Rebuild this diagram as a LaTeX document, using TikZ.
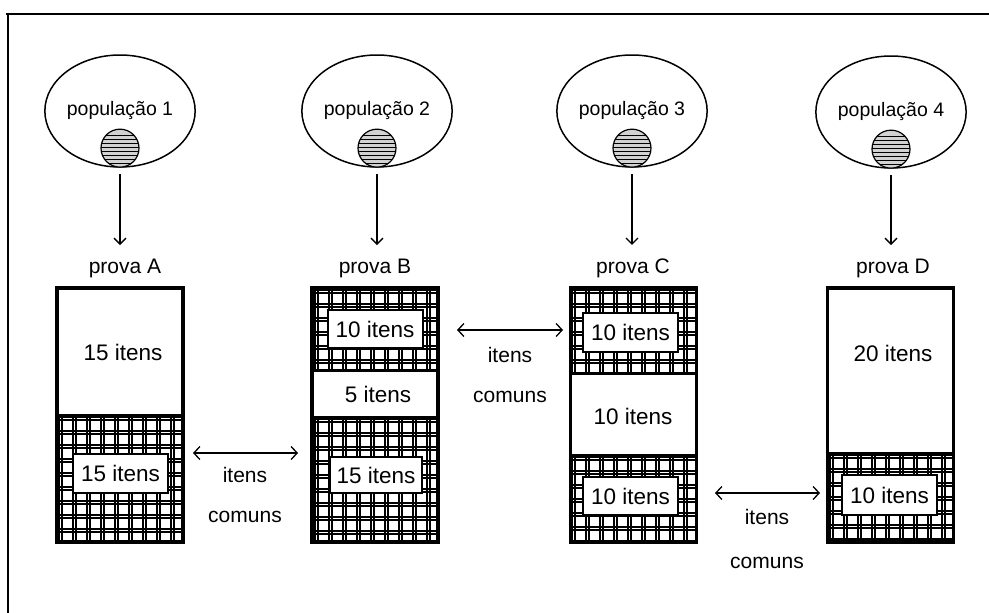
\documentclass[tikz,border=0pt]{standalone}
\usepackage{fontspec}
\setmainfont{Liberation Sans}
\usetikzlibrary{arrows.meta,positioning,shapes.geometric}

% grid of double lines over a part of a test booklet
\newcommand{\gridpatch}[4]{%
  \begin{scope}
    \clip (#1,#2) rectangle (#3,#4);
    \fill[white] (#1,#2) rectangle (#3,#4);
    \foreach \g in {0,14,...,140} {
      \draw[gridline] ({#1+\g+2},#2) -- ({#1+\g+2},#4);
      \draw[gridline] ({#1+\g+5},#2) -- ({#1+\g+5},#4);
      \draw[gridline] (#1,{#2+\g+2}) -- (#3,{#2+\g+2});
      \draw[gridline] (#1,{#2+\g+5}) -- (#3,{#2+\g+5});
    }
  \end{scope}}

\begin{document}
\begin{tikzpicture}[
  x=1pt, y=-1pt,
  font=\fontsize{21}{24}\selectfont,
  pop/.style={draw, ellipse, line width=1.5pt, minimum width=126, minimum height=112, inner sep=0pt, font=\fontsize{19.5}{22}\selectfont},
  sample/.style={draw, circle, line width=1.2pt, minimum size=38, inner sep=0pt, fill=gray!35,
    path picture={\foreach \k in {-15,-11,...,15} \draw[line width=0.7pt] ([yshift=\k pt]path picture bounding box.west) -- ([yshift=\k pt]path picture bounding box.east);}},
  testbox/.style={draw, line width=3.5pt, minimum width=126, minimum height=254, inner sep=0pt},
  itembox/.style={draw, fill=white, line width=2pt, minimum width=95, minimum height=39, inner sep=0pt, font=\fontsize{22.5}{24}\selectfont},
  itemtext/.style={font=\fontsize{22.5}{24}\selectfont},
  arrow/.style={-{Straight Barb[length=6pt,width=12pt]}, line width=1.3pt},
  dblarrow/.style={{Straight Barb[length=6pt,width=13pt]}-{Straight Barb[length=6pt,width=13pt]}, line width=1.3pt},
  divider/.style={line width=3pt},
  gridline/.style={line width=1.1pt}
]
\useasboundingbox (0,0) rectangle (989,613);

% frame
\draw[line width=2pt] (6,14) -- (989,14);
\draw[line width=1.5pt] (8,14) -- (8,613);

% populations
\node[pop] (pop1) at (120,111) {população 1};
\node[pop] (pop2) at (377,111) {população 2};
\node[pop] (pop3) at (632,111) {população 3};
\node[pop] (pop4) at (891,112) {população 4};
\node[sample, anchor=south] (sam1) at (pop1.south) {};
\node[sample, anchor=south] (sam2) at (pop2.south) {};
\node[sample, anchor=south] (sam3) at (pop3.south) {};
\node[sample, anchor=south] (sam4) at (pop4.south) {};

% tests
\node (provaA) at (125,268) {prova A};
\node (provaB) at (375,268) {prova B};
\node (provaC) at (633,268) {prova C};
\node (provaD) at (893,268) {prova D};

\draw[arrow, shorten <=6pt, shorten >=10pt] (pop1.south) -- (pop1.south |- provaA.north);
\draw[arrow, shorten <=6pt, shorten >=10pt] (pop2.south) -- (pop2.south |- provaB.north);
\draw[arrow, shorten <=6pt, shorten >=10pt] (pop3.south) -- (pop3.south |- provaC.north);
\draw[arrow, shorten <=6pt, shorten >=10pt] (pop4.south) -- (pop4.south |- provaD.north);

% hatched parts
\gridpatch{57}{415}{183}{542}
\gridpatch{313}{288}{437}{370}
\gridpatch{313}{417}{437}{542}
\gridpatch{570}{288}{697}{373}
\gridpatch{570}{455}{697}{542}
\gridpatch{828}{453}{953}{542}

\node[testbox] (boxA) at (120,415) {};
\node[testbox] (boxB) at (375,415) {};
\node[testbox] (boxC) at (633.5,415) {};
\node[testbox] (boxD) at (890.5,415) {};

\draw[divider] (57,415) -- (183,415);
\draw[divider] (313,370) -- (437,370);
\draw[divider] (313,417) -- (437,417);
\draw[divider] (570,373) -- (697,373);
\draw[divider] (570,455) -- (697,455);
\draw[divider] (828,453) -- (953,453);

% items
\node[itemtext] (a1) at (123,352) {15 itens};
\node[itembox] (a2) at (120.5,473) {15 itens};
\node[itembox, minimum height=38] (b1) at (375,329) {10 itens};
\node[itemtext] (b2) at (378,394) {5 itens};
\node[itembox, minimum width=92, minimum height=36] (b3) at (376,475) {15 itens};
\node[itembox] (c1) at (630.5,332.5) {10 itens};
\node[itemtext] (c2) at (633,416) {10 itens};
\node[itembox, minimum height=38] (c3) at (630.5,496) {10 itens};
\node[itemtext] (d1) at (893,353) {20 itens};
\node[itembox, minimum height=40] (d2) at (889.5,495) {10 itens};

% common items
\coordinate (abL) at (193,453);
\coordinate (abR) at (298,453);
\coordinate (bcL) at (457,330);
\coordinate (bcR) at (563,330);
\coordinate (cdL) at (715,493);
\coordinate (cdR) at (820,493);
\draw[dblarrow] (abL) -- (abR);
\draw[dblarrow] (bcL) -- (bcR);
\draw[dblarrow] (cdL) -- (cdR);
\node (ab1) at (245,475) {itens};
\node (ab2) at (245,517) {comuns};
\node (bc1) at (510,355) {itens};
\node (bc2) at (510,397) {comuns};
\node (cd1) at (767,517) {itens};
\node (cd2) at (767,563) {comuns};
\end{tikzpicture}
\end{document}
